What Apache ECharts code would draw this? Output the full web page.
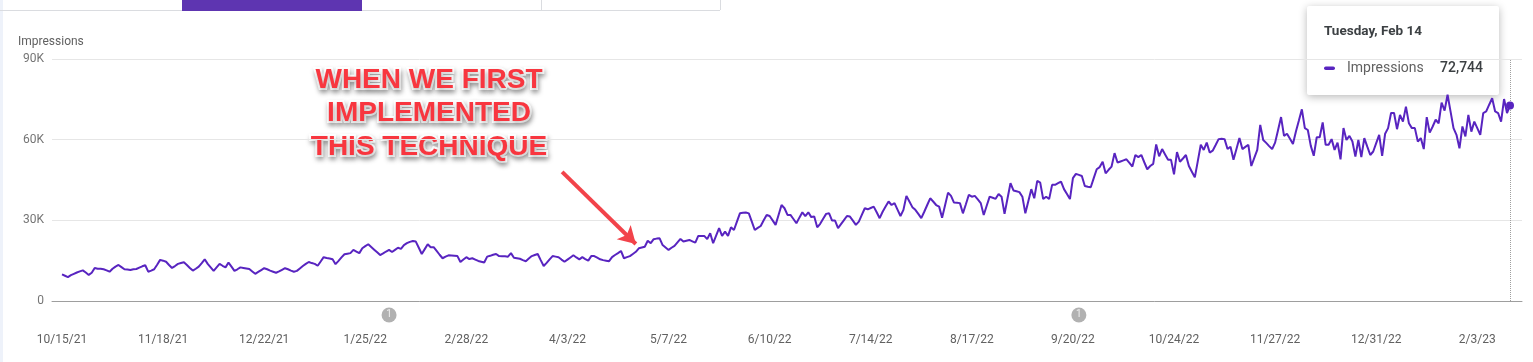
<!DOCTYPE html>
<html><head><meta charset="utf-8">
<script src="https://cdn.jsdelivr.net/npm/echarts@6/dist/echarts.min.js"></script>
<style>html,body{margin:0;padding:0;background:#fff}#c{width:1533px;height:362px}</style>
</head><body><div id="c"></div>
<script>
// ---- data ----
const startDate = [2021, 9, 15]; // 10/15/21 (UTC y, m0, d)
const tickLabels = ['10/15/21','11/18/21','12/22/21','1/25/22','2/28/22','4/3/22','5/7/22','6/10/22','7/14/22','8/17/22','9/20/22','10/24/22','11/27/22','12/31/22','2/3/23'];
const tickStepDays = 34;
const yTickStepK = 30;
const yMaxK = 90;
const annotationDays = [110, 342];
const annotationLabels = ['1', '1'];
const seriesName = 'Impressions';
// daily impressions, thousands
const impressionsK = [
9.9,9.4,8.9,9.6,10.1,10.6,11.0,11.4,10.6,9.7,10.5,12.3,12.0,12.0,
11.8,11.4,10.9,12.0,12.8,13.4,12.6,11.8,11.7,11.5,11.8,11.9,12.4,12.9,
13.3,10.9,11.3,11.8,13.5,15.3,15.0,14.6,13.4,12.3,13.0,13.8,14.1,14.4,
13.4,12.3,11.3,12.0,12.8,14.1,15.5,13.8,12.5,11.2,12.5,13.8,13.1,12.5,
14.3,12.8,11.2,11.8,12.5,12.3,12.1,11.9,11.0,10.1,10.8,11.5,12.2,11.8,
11.3,10.9,10.5,11.0,11.6,12.2,11.8,11.3,10.9,11.2,12.1,13.0,13.8,14.5,
14.1,13.8,13.1,14.7,16.3,16.0,15.8,15.5,13.7,14.9,16.2,17.4,17.6,17.8,
19.0,18.4,17.8,19.6,20.4,21.1,20.1,19.1,18.1,17.1,17.7,18.4,19.0,18.2,
19.0,19.8,19.4,20.8,21.5,22.0,22.3,22.1,19.8,17.5,19.3,21.1,20.0,20.0,
18.6,17.2,15.9,16.5,17.0,16.9,16.8,16.7,14.5,15.4,16.3,15.6,15.9,15.4,
14.9,14.6,14.3,16.5,16.8,17.2,17.5,16.7,16.6,16.6,16.5,17.8,16.1,15.9,
15.7,15.2,14.8,15.8,16.7,17.1,17.5,15.2,13.0,14.2,15.5,16.7,16.5,16.3,
15.4,14.6,15.4,16.2,17.0,16.2,15.5,16.3,15.6,15.0,16.7,16.7,16.1,15.5,
15.2,15.0,14.8,16.3,17.1,17.8,18.6,15.9,16.3,16.7,17.5,18.3,19.6,19.9,
20.2,22.4,21.5,23.0,23.2,23.3,20.8,19.9,19.0,19.8,20.5,21.8,23.1,22.1,
22.4,22.7,22.2,21.7,24.2,24.2,24.2,23.0,25.2,21.5,24.3,27.1,24.2,25.8,
24.2,27.4,26.4,29.5,32.6,32.8,32.9,32.6,29.5,26.4,27.2,27.9,30.0,32.0,
31.6,30.0,28.3,32.0,35.7,34.5,32.0,32.0,30.5,28.9,31.0,33.0,31.6,33.0,
31.2,31.4,27.4,28.7,30.6,32.4,32.6,29.9,29.9,27.1,28.6,30.1,31.6,31.4,
29.9,28.3,29.5,32.0,34.5,34.1,34.6,35.1,33.0,30.8,33.2,35.1,37.0,35.7,
36.4,34.0,31.6,33.9,39.1,37.0,34.9,33.9,32.4,30.8,33.2,35.7,38.2,37.0,
35.7,35.1,31.0,35.6,40.3,39.1,36.6,36.5,36.4,32.6,36.0,39.5,38.8,39.1,
37.8,36.4,32.0,35.4,38.8,38.4,38.0,39.8,38.8,32.4,38.1,43.8,41.1,40.8,
40.5,38.8,32.6,37.1,41.6,38.2,44.7,44.0,37.9,38.8,37.9,43.2,43.2,43.8,
44.4,41.6,39.8,37.9,45.7,47.3,46.9,46.5,42.8,42.5,42.3,45.7,49.0,49.8,
51.8,47.5,48.8,50.0,55.0,51.5,51.9,52.3,52.7,51.4,50.0,54.3,53.5,54.3,
51.6,49.0,50.2,51.0,58.2,53.8,56.5,54.5,52.5,52.5,47.1,55.4,51.8,53.0,
54.3,50.2,48.1,46.0,52.0,58.1,56.2,58.9,55.2,55.9,58.0,60.2,60.3,60.2,
56.5,57.4,52.5,56.5,60.6,56.5,57.3,58.1,50.2,53.2,56.2,65.5,59.9,58.8,
57.6,56.5,58.9,63.6,68.4,61.4,62.2,60.3,58.4,63.0,67.1,71.3,64.3,63.6,
57.7,54.0,60.9,60.9,66.4,58.1,58.1,60.2,56.2,58.9,52.7,64.3,59.9,61.4,
59.3,53.7,59.9,53.5,60.6,57.4,54.3,55.6,58.7,61.8,54.0,62.2,64.3,69.9,
69.9,63.9,69.2,66.7,72.3,66.1,64.3,64.3,59.3,60.6,56.5,68.4,62.6,64.9,
67.4,66.1,73.8,70.8,76.7,70.5,64.3,61.8,56.8,64.9,61.2,69.2,63.0,66.7,
64.3,61.8,69.9,70.5,73.0,75.4,70.5,69.9,66.7,75.1,69.9,72.744
];
// arrow annotation, in data units (day index, thousands)
const arrowFrom = [168.2, 48.0];
const arrowTo = [193.0, 21.2];
const noteLines = ['WHEN WE FIRST', 'IMPLEMENTED', 'THIS TECHNIQUE'];

// ---- chart ----
const PURPLE = '#5824c0';
const FONT = 'Roboto';
const lastIdx = impressionsK.length - 1;
const lastDate = new Date(Date.UTC(startDate[0], startDate[1], startDate[2] + lastIdx));
const tipTitle = lastDate.toLocaleDateString('en-US', {weekday: 'long', timeZone: 'UTC'}) + ', ' +
                 lastDate.toLocaleDateString('en-US', {month: 'short', day: 'numeric', timeZone: 'UTC'});
const tipValue = Math.round(impressionsK[lastIdx] * 1000).toLocaleString('en-US');

const chart = echarts.init(document.getElementById('c'), null, {renderer: 'canvas'});
const option = {
  animation: false,
  backgroundColor: '#ffffff',
  grid: [
    {left: 52, right: 11, top: 59, bottom: 61},
    {left: 62, right: 23, top: 59, bottom: 61}
  ],
  xAxis: [
    {gridIndex: 0, type: 'value', min: 0, max: 1,
     axisLine: {show: true, lineStyle: {color: '#9e9e9e', width: 1}},
     axisTick: {show: false}, axisLabel: {show: false}, splitLine: {show: false}},
    {gridIndex: 1, type: 'value', min: 0, max: lastIdx, interval: tickStepDays,
     axisLine: {show: false}, axisTick: {show: false}, splitLine: {show: false},
     axisLabel: {margin: 33, color: '#616161', fontSize: 12, fontFamily: FONT,
       showMaxLabel: false, showMinLabel: true,
       formatter: v => { const i = v / tickStepDays; return Number.isInteger(i) ? (tickLabels[i] || '') : ''; }}}
  ],
  yAxis: [
    {gridIndex: 0, type: 'value', min: 0, max: yMaxK, interval: yTickStepK,
     name: seriesName, nameLocation: 'end', nameGap: 11,
     nameTextStyle: {align: 'left', padding: [0, 0, 0, -34], color: '#616161', fontSize: 12, fontFamily: FONT},
     axisLine: {show: false}, axisTick: {show: false},
     axisLabel: {margin: 8, color: '#757575', fontSize: 12, fontFamily: FONT,
       formatter: v => v === 0 ? '0' : v + 'K'},
     splitLine: {show: true, lineStyle: {color: '#e6e6e6', width: 1}}},
    {gridIndex: 1, type: 'value', min: 0, max: yMaxK, show: false}
  ],
  series: [
    {name: seriesName, type: 'line', xAxisIndex: 1, yAxisIndex: 1,
     data: impressionsK.map((v, i) => [i, v]),
     symbol: 'none', showSymbol: false, silent: true,
     lineStyle: {color: PURPLE, width: 2}, itemStyle: {color: PURPLE},
     markPoint: {silent: true, symbol: 'circle', symbolSize: 8, itemStyle: {color: PURPLE},
       label: {show: false}, data: [{coord: [lastIdx, impressionsK[lastIdx]]}]},
     markLine: {silent: true, label: {show: false}, symbolSize: [14, 16],
       emphasis: {disabled: true},
       data: [
         [{coord: [lastIdx, 0], symbol: 'none', lineStyle: {color: '#9e9e9e', type: 'dotted', width: 1}},
          {coord: [lastIdx, yMaxK], symbol: 'none'}],
         [{coord: arrowFrom, symbol: 'none', lineStyle: {color: '#f2434a', type: 'solid', width: 4}},
          {coord: arrowTo, symbol: 'arrow', symbolSize: [15, 17]}]
       ]}},
    {type: 'scatter', xAxisIndex: 1, yAxisIndex: 1, clip: false, silent: true,
     data: annotationDays.map((d, i) => ({value: [d, -5.2], label: {formatter: annotationLabels[i]}})),
     symbol: 'circle', symbolSize: 15, itemStyle: {color: '#9e9e9e'},
     label: {show: true, position: 'inside', color: '#ffffff', fontSize: 10, fontFamily: FONT}}
  ],
  graphic: [
    {type: 'rect', silent: true, shape: {x: 0, y: 0, width: 3, height: 362}, style: {fill: '#eef2fa'}},
    {type: 'line', silent: true, shape: {x1: 0, y1: 10.5, x2: 720, y2: 10.5}, style: {stroke: '#dadce0', lineWidth: 1}},
    {type: 'line', silent: true, shape: {x1: 541.5, y1: 0, x2: 541.5, y2: 10}, style: {stroke: '#dadce0', lineWidth: 1}},
    {type: 'line', silent: true, shape: {x1: 720.5, y1: 0, x2: 720.5, y2: 10}, style: {stroke: '#dadce0', lineWidth: 1}},
    {type: 'rect', silent: true, shape: {x: 182, y: 0, width: 180, height: 11}, style: {fill: '#5e35b1'}},
    // annotation text
    ...noteLines.map((t, i) => ({type: 'text', silent: true, x: 429, y: 80 + i * 33.5,
      style: {text: t, font: 'bold 28px "Liberation Sans", Arial, sans-serif', fill: '#f8363f',
        stroke: '#ffffff', lineWidth: 4, align: 'center', verticalAlign: 'middle',
        textShadowBlur: 5, textShadowColor: 'rgba(0,0,0,0.3)', textShadowOffsetX: 1, textShadowOffsetY: 3}})),
    // tooltip card
    {type: 'group', silent: true, children: [
      {type: 'rect', shape: {x: 1307, y: 6, width: 192, height: 89, r: 2},
       style: {fill: '#ffffff', shadowBlur: 8, shadowColor: 'rgba(0,0,0,0.28)', shadowOffsetY: 2}},
      {type: 'text', x: 1324, y: 32, style: {text: tipTitle, font: 'bold 13.5px Roboto', fill: '#3c4043', verticalAlign: 'middle'}},
      {type: 'rect', shape: {x: 1324, y: 66.5, width: 11, height: 3.5, r: 1.75}, style: {fill: PURPLE}},
      {type: 'text', x: 1347, y: 68, style: {text: seriesName, font: '14px Roboto', fill: '#616161', verticalAlign: 'middle'}},
      {type: 'text', x: 1483, y: 68, style: {text: tipValue, font: '500 14px Roboto', fill: '#3c4043', align: 'right', verticalAlign: 'middle'}}
    ]}
  ]
};
chart.setOption(option);
</script>
</body></html>
